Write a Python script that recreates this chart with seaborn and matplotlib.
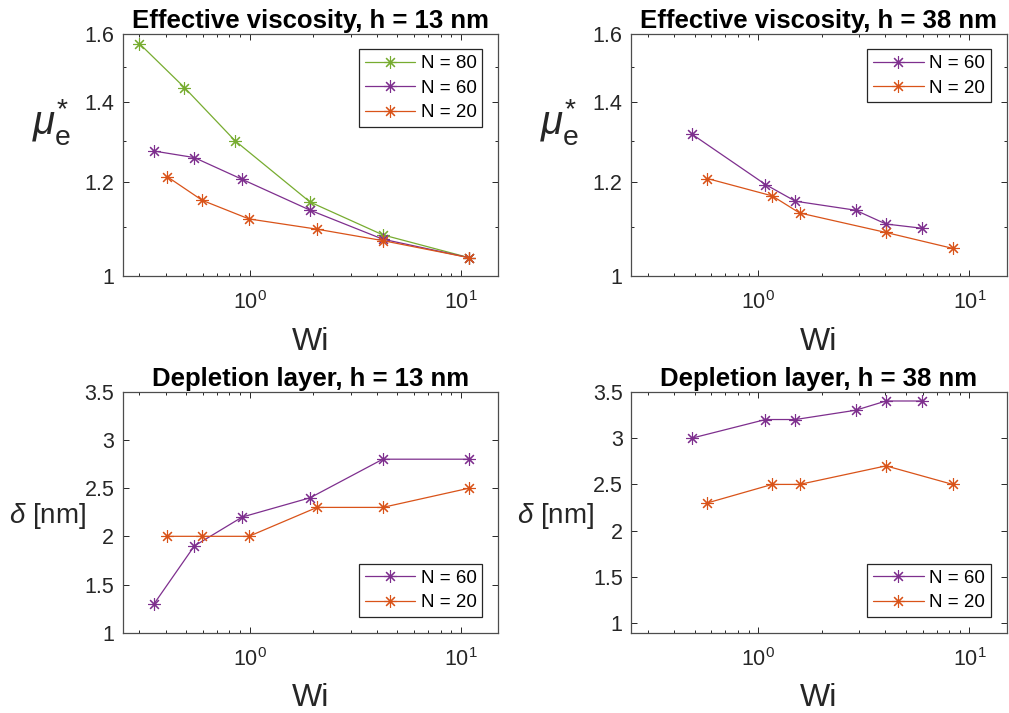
import numpy as np
import pandas as pd
import matplotlib
matplotlib.use("Agg")
import matplotlib.pyplot as plt
import matplotlib.ticker as mticker
import seaborn as sns

# ---------------- data ----------------
# h = 13 nm
wi13_n80 = [0.30, 0.49, 0.85, 1.93, 4.26, 10.95]
mu13_n80 = [1.569, 1.441, 1.300, 1.154, 1.083, 1.036]
wi13_n60 = [0.352, 0.546, 0.92, 1.93, 4.26, 10.95]
mu13_n60 = [1.274, 1.258, 1.206, 1.136, 1.074, 1.036]
wi13_n20 = [0.407, 0.595, 0.99, 2.08, 4.26, 10.95]
mu13_n20 = [1.212, 1.158, 1.117, 1.095, 1.071, 1.036]
delta13_n60 = [1.3, 1.9, 2.2, 2.4, 2.8, 2.8]
delta13_n20 = [2.0, 2.0, 2.0, 2.3, 2.3, 2.5]

# h = 38 nm
wi38_n60 = [0.487, 1.083, 1.50, 2.89, 4.03, 5.97]
mu38_n60 = [1.316, 1.194, 1.156, 1.136, 1.106, 1.097]
wi38_n20 = [0.574, 1.165, 1.57, 4.03, 8.34]
mu38_n20 = [1.208, 1.168, 1.130, 1.088, 1.055]
delta38_n60 = [3.0, 3.2, 3.2, 3.3, 3.4, 3.4]
delta38_n20 = [2.3, 2.5, 2.5, 2.7, 2.5]

titles = ["Effective viscosity, h = 13 nm", "Effective viscosity, h = 38 nm",
          "Depletion layer, h = 13 nm", "Depletion layer, h = 38 nm"]
mu_ticks = [1, 1.2, 1.4, 1.6]
mu_minor = [1.1, 1.3, 1.5]
delta_ticks = [1, 1.5, 2, 2.5, 3, 3.5]

colors = {"N = 80": "#77AC30", "N = 60": "#7E2F8E", "N = 20": "#D95319"}

# ---------------- style ----------------
sns.set_style("ticks")
plt.rcParams["font.family"] = ["Liberation Sans", "DejaVu Sans"]
plt.rcParams["mathtext.fontset"] = "custom"
plt.rcParams["mathtext.rm"] = "Liberation Sans"
plt.rcParams["mathtext.it"] = "Liberation Sans:italic"
plt.rcParams["mathtext.bf"] = "Liberation Sans:bold"

AX = "#262626"
fig = plt.figure(figsize=(10.09, 7.13), dpi=100)

pos = [
    [0.1216, 0.6129, 0.3722, 0.3401],
    [0.6254, 0.6129, 0.3722, 0.3401],
    [0.1216, 0.1126, 0.3722, 0.3380],
    [0.6254, 0.1126, 0.3722, 0.3380],
]
axes = [fig.add_axes(p) for p in pos]

marker = (8, 2, 0)

def draw(ax, series):
    for label, x, y in series:
        df = pd.DataFrame({"Wi": x, "val": y})
        sns.lineplot(data=df, x="Wi", y="val", ax=ax, color=colors[label],
                     marker=marker, markersize=9, markeredgewidth=0.8,
                     markeredgecolor=colors[label],
                     linewidth=0.9, label=label, estimator=None, sort=False)

draw(axes[0], [("N = 80", wi13_n80, mu13_n80),
               ("N = 60", wi13_n60, mu13_n60),
               ("N = 20", wi13_n20, mu13_n20)])
draw(axes[1], [("N = 60", wi38_n60, mu38_n60),
               ("N = 20", wi38_n20, mu38_n20)])
draw(axes[2], [("N = 60", wi13_n60, delta13_n60),
               ("N = 20", wi13_n20, delta13_n20)])
draw(axes[3], [("N = 60", wi38_n60, delta38_n60),
               ("N = 20", wi38_n20, delta38_n20)])

for i, ax in enumerate(axes):
    ax.set_xscale("log")
    ax.set_xlim(0.25, 15)
    ax.xaxis.set_major_locator(mticker.LogLocator(base=10, numticks=10))
    ax.xaxis.set_minor_locator(mticker.LogLocator(base=10, subs=np.arange(2, 10), numticks=20))
    ax.xaxis.set_minor_formatter(mticker.NullFormatter())
    if i < 2:
        ax.set_yscale("log")
        ax.set_ylim(1, 1.6)
        ax.yaxis.set_major_locator(mticker.FixedLocator(mu_ticks))
        ax.yaxis.set_major_formatter(mticker.FixedFormatter([f"{v:g}" for v in mu_ticks]))
        ax.yaxis.set_minor_locator(mticker.FixedLocator(mu_minor))
        ax.yaxis.set_minor_formatter(mticker.NullFormatter())
        ax.set_ylabel(r"$\mu_{\mathrm{e}}^{*}$", fontsize=29, rotation=0, color=AX)
        ax.yaxis.set_label_coords(-0.19, 0.53)
        leg_loc = "upper right"
    else:
        ax.set_ylim(1 if i == 2 else 0.9, 3.5)
        ax.yaxis.set_major_locator(mticker.FixedLocator(delta_ticks))
        ax.yaxis.set_major_formatter(mticker.FixedFormatter([f"{v:g}" for v in delta_ticks]))
        ax.yaxis.set_minor_locator(mticker.NullLocator())
        ax.set_ylabel(r"$\delta$ [nm]", fontsize=20, rotation=0, color=AX)
        ax.yaxis.set_label_coords(-0.2, 0.42)
        leg_loc = "lower right"
    ax.set_xlabel("Wi", fontsize=23, color=AX, labelpad=9)
    ax.set_title(titles[i], fontsize=18.5, fontweight="bold", pad=4, color="black")
    ax.tick_params(which="both", direction="in", top=True, right=True,
                   colors=AX, labelsize=15.5, width=0.7)
    ax.tick_params(axis="x", which="both", pad=11)
    ax.tick_params(axis="y", which="both", pad=6)
    ax.tick_params(which="major", length=4.5)
    ax.tick_params(which="minor", length=2.5)
    for s in ax.spines.values():
        s.set_color("#4d4d4d")
        s.set_linewidth(0.9)
    leg = ax.legend(loc=leg_loc, fontsize=13.5, frameon=True, fancybox=False,
                    framealpha=1, edgecolor=AX, handlelength=2.7,
                    handletextpad=0.3, borderpad=0.3, labelspacing=0.4,
                    borderaxespad=0.85, numpoints=1)
    leg.get_frame().set_linewidth(0.9)
    for t in leg.get_texts():
        t.set_color("black")

fig.savefig("out.png", dpi=100)
